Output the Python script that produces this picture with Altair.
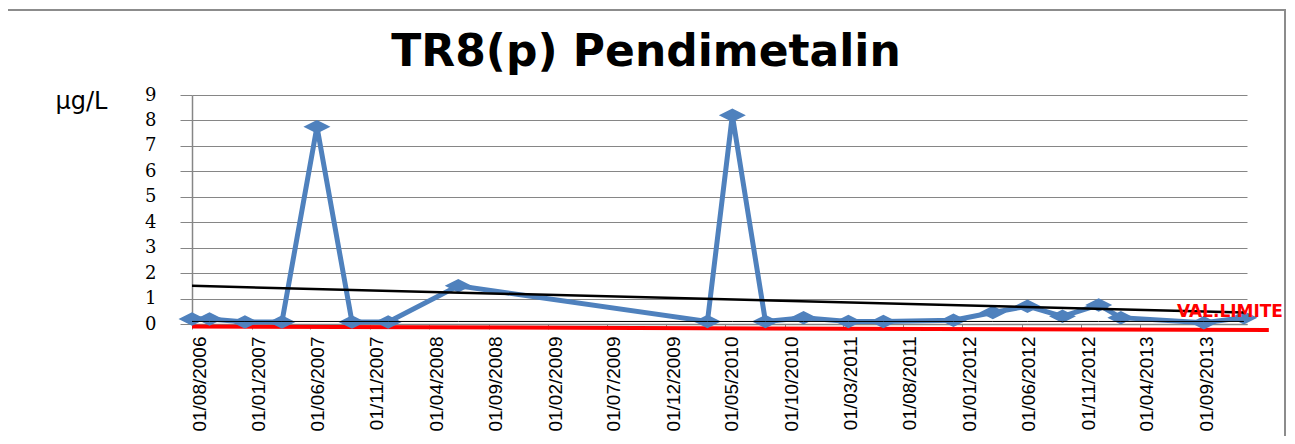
import altair as alt
import pandas as pd

# ---------------- data ----------------
title_text = "TR8(p) Pendimetalin"
unit_label = "µg/L"

sample_dates = [
    "2006-08-01", "2006-09-15", "2006-12-15", "2007-03-20", "2007-06-18",
    "2007-09-16", "2007-12-18", "2008-06-15", "2010-03-17", "2010-05-20",
    "2010-08-13", "2010-11-19", "2011-03-14", "2011-06-12", "2011-12-09",
    "2012-03-19", "2012-06-16", "2012-09-14", "2012-12-16", "2013-02-11",
    "2013-09-12", "2013-12-24",
]
sample_values = [
    0.2, 0.2, 0.08, 0.08, 7.75,
    0.08, 0.08, 1.5, 0.1, 8.2,
    0.1, 0.25, 0.1, 0.1, 0.15,
    0.45, 0.7, 0.3, 0.75, 0.25,
    0.05, 0.25,
]

limit_value = 0.1                      # thin black limit series
trend_values = [1.5, 0.45]             # linear trend, first -> last date
red_dates = ["2006-08-01", "2014-02-26"]
red_values = [-0.1, -0.24]             # hand-drawn red limit line
limit_label = "VAL.LIMITE"
limit_label_date = "2013-07-05"
limit_label_value = 0.49

tick_labels = [
    "01/08/2006", "01/01/2007", "01/06/2007", "01/11/2007", "01/04/2008",
    "01/09/2008", "01/02/2009", "01/07/2009", "01/12/2009", "01/05/2010",
    "01/10/2010", "01/03/2011", "01/08/2011", "01/01/2012", "01/06/2012",
    "01/11/2012", "01/04/2013", "01/09/2013",
]
y_ticks = [0, 1, 2, 3, 4, 5, 6, 7, 8, 9]


def ts(d):
    return d + "T00:00:00"


def dt_from_label(s):
    return alt.DateTime(year=int(s[6:]), month=int(s[3:5]), date=int(s[:2]))


df_main = pd.DataFrame({"date": [ts(d) for d in sample_dates], "value": sample_values})
df_limit = pd.DataFrame({"date": [ts(d) for d in sample_dates],
                         "value": [limit_value] * len(sample_dates)})
df_trend = pd.DataFrame({"date": [ts(sample_dates[0]), ts(sample_dates[-1])],
                         "value": trend_values})
df_red = pd.DataFrame({"date": [ts(d) for d in red_dates], "value": red_values})
df_lbl = pd.DataFrame({"date": [ts(limit_label_date)], "value": [limit_label_value],
                       "t": [limit_label]})

GRID = "#868686"
BLUE = "#4F81BD"

x_scale = alt.Scale(domain=[alt.DateTime(year=2006, month=8, date=1),
                            alt.DateTime(year=2014, month=1, date=1)])
y_scale = alt.Scale(domain=[0, 9], nice=False, zero=False)

x_axis = alt.Axis(
    values=[dt_from_label(s) for s in tick_labels],
    format="%d/%m/%Y", formatType="time",
    labelAngle=-90, labelAlign="right", labelBaseline="middle",
    labelFont="Liberation Sans", labelFontSize=19, labelColor="#000000",
    labelPadding=7, labelOffset=7, labelOverlap=False, labelFlush=False,
    tickSize=5, tickColor=GRID, domainColor=GRID, domainWidth=1.5,
    grid=False, title=None,
)
y_axis = alt.Axis(
    values=y_ticks, grid=True, gridColor=GRID, gridWidth=1,
    tickSize=12, tickColor=GRID, domainColor=GRID, domainWidth=1.5,
    labelFont="DejaVu Serif", labelFontSize=18, labelColor="#000000", labelPadding=24,
    title=unit_label, titleAngle=0, titleX=-85, titleY=13,
    titleAlign="right", titleBaseline="alphabetic",
    titleFont="DejaVu Sans", titleFontSize=24, titleFontWeight="normal", titleColor="#000000",
)

x_enc = alt.X("date:T", scale=x_scale, axis=x_axis)
y_enc = alt.Y("value:Q", scale=y_scale, axis=y_axis)

diamond = "M-1,0L0,-0.5L1,0L0,0.5Z"

frame = alt.Chart(pd.DataFrame({"k": [0]})).mark_rect(
    filled=False, stroke="#8c8c8c", strokeWidth=2
).encode(x=alt.value(-187), x2=alt.value(1093), y=alt.value(-85), y2=alt.value(380))

title = alt.Chart(pd.DataFrame({"t": [title_text]})).mark_text(
    font="DejaVu Sans", fontWeight="bold", fontSize=44, align="center",
    baseline="alphabetic", color="#000000"
).encode(text="t:N", x=alt.value(454), y=alt.value(-29))

red = alt.Chart(df_red).mark_line(color="#FF0000", strokeWidth=4, clip=False).encode(x=x_enc, y=y_enc)
line = alt.Chart(df_main).mark_line(color=BLUE, strokeWidth=5).encode(x=x_enc, y=y_enc)
pts = alt.Chart(df_main).mark_point(
    shape=diamond, filled=True, size=729, color=BLUE, opacity=1
).encode(x=x_enc, y=y_enc)
trend = alt.Chart(df_trend).mark_line(color="#000000", strokeWidth=2.5).encode(x=x_enc, y=y_enc)
limit = alt.Chart(df_limit).mark_line(color="#000000", strokeWidth=1).encode(x=x_enc, y=y_enc)
lbl = alt.Chart(df_lbl).mark_text(
    font="DejaVu Sans", fontWeight="bold", fontSize=17, color="#FF0000",
    align="left", baseline="middle"
).encode(x=x_enc, y=y_enc, text="t:N")

chart = alt.layer(frame, title, red, line, pts, trend, limit, lbl).properties(
    width=1055, height=229,
    autosize="none",
    padding={"left": 184, "top": 87, "right": 40, "bottom": 112},
    background="#ffffff",
).configure_view(stroke=None)

chart.save("out.html", embed_options={"renderer": "svg", "actions": False})
